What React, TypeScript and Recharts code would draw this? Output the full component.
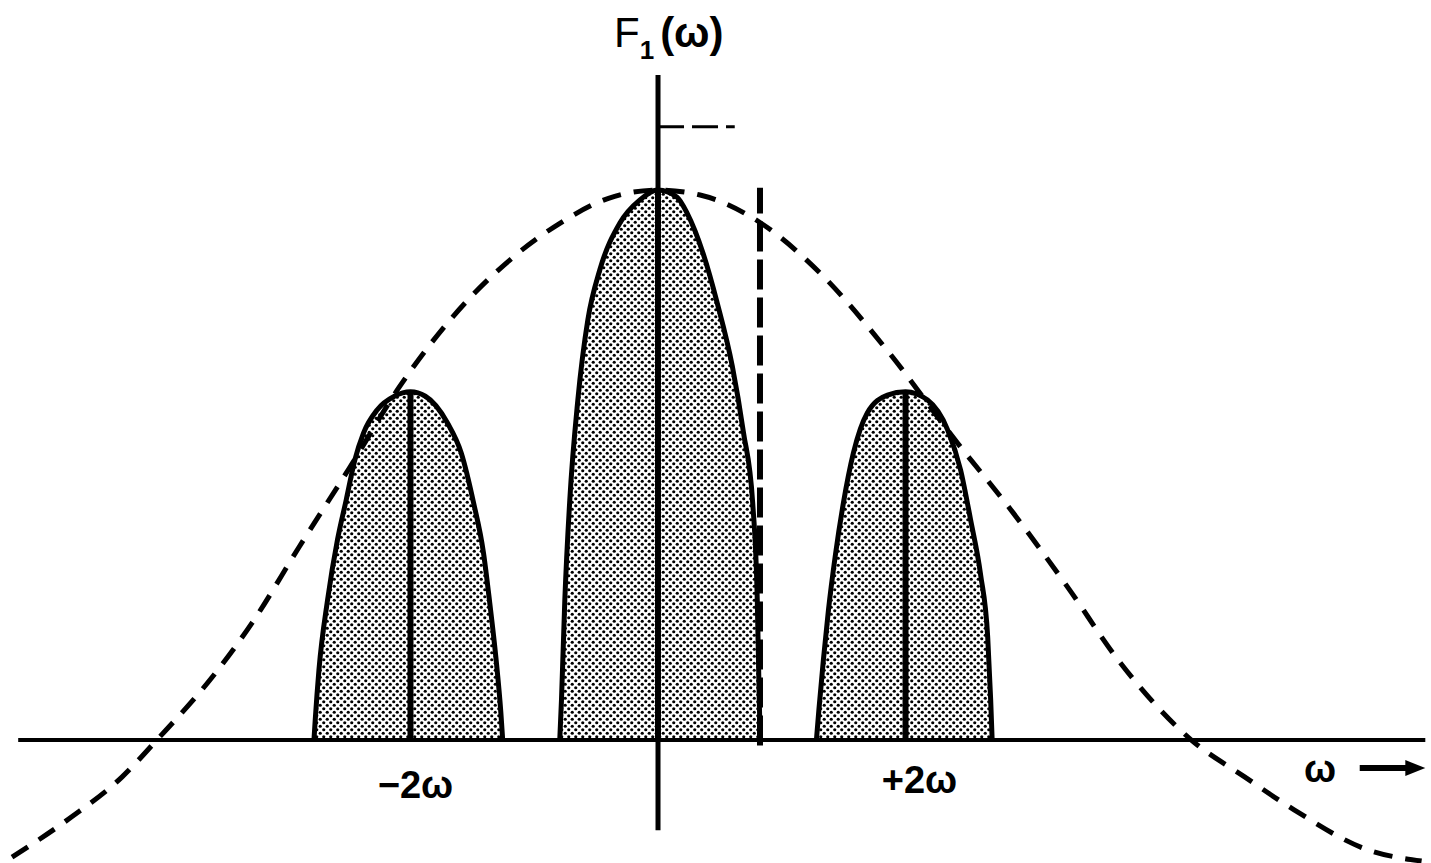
import React from "react";
import {
  ComposedChart,
  Area,
  Line,
  XAxis,
  YAxis,
  ReferenceLine,
  ReferenceDot,
} from "recharts";

// dashed envelope F1(w)
const envelope = [
  { x: -5.22, y: -0.213 },
  { x: -4.74, y: -0.14 },
  { x: -4.33, y: -0.067 },
  { x: -4.05, y: 0 },
  { x: -3.6, y: 0.115 },
  { x: -3.28, y: 0.213 },
  { x: -2.9, y: 0.351 },
  { x: -2.49, y: 0.496 },
  { x: -2.09, y: 0.642 },
  { x: -1.66, y: 0.769 },
  { x: -1.17, y: 0.878 },
  { x: -0.79, y: 0.94 },
  { x: -0.4, y: 0.985 },
  { x: 0, y: 1.0 },
  { x: 0.34, y: 0.991 },
  { x: 0.83, y: 0.94 },
  { x: 1.31, y: 0.849 },
  { x: 1.85, y: 0.709 },
  { x: 2.42, y: 0.54 },
  { x: 2.87, y: 0.413 },
  { x: 3.31, y: 0.278 },
  { x: 3.72, y: 0.145 },
  { x: 4.31, y: 0 },
  { x: 4.74, y: -0.067 },
  { x: 5.14, y: -0.127 },
  { x: 5.74, y: -0.2 },
  { x: 6.17, y: -0.22 },
];

// stippled side band at -2w
const leftLobe = [
  { x: -2.78, y: 0 },
  { x: -2.77, y: 0.036 },
  { x: -2.74, y: 0.127 },
  { x: -2.67, y: 0.255 },
  { x: -2.59, y: 0.364 },
  { x: -2.52, y: 0.436 },
  { x: -2.45, y: 0.509 },
  { x: -2.38, y: 0.558 },
  { x: -2.27, y: 0.6 },
  { x: -2.13, y: 0.625 },
  { x: -2.0, y: 0.633 },
  { x: -1.88, y: 0.625 },
  { x: -1.7, y: 0.576 },
  { x: -1.59, y: 0.522 },
  { x: -1.49, y: 0.431 },
  { x: -1.41, y: 0.34 },
  { x: -1.36, y: 0.25 },
  { x: -1.31, y: 0.15 },
  { x: -1.27, y: 0.05 },
  { x: -1.255, y: 0 },
];

// stippled centre band
const centerLobe = [
  { x: -0.794, y: 0 },
  { x: -0.78, y: 0.073 },
  { x: -0.753, y: 0.255 },
  { x: -0.713, y: 0.436 },
  { x: -0.648, y: 0.618 },
  { x: -0.567, y: 0.764 },
  { x: -0.47, y: 0.855 },
  { x: -0.308, y: 0.94 },
  { x: -0.146, y: 0.982 },
  { x: 0, y: 1.0 },
  { x: 0.154, y: 0.987 },
  { x: 0.235, y: 0.958 },
  { x: 0.364, y: 0.885 },
  { x: 0.478, y: 0.795 },
  { x: 0.6, y: 0.68 },
  { x: 0.69, y: 0.56 },
  { x: 0.765, y: 0.431 },
  { x: 0.802, y: 0.255 },
  { x: 0.818, y: 0.073 },
  { x: 0.826, y: 0 },
];

// stippled side band at +2w
const rightLobe = [
  { x: 1.28, y: 0 },
  { x: 1.3, y: 0.055 },
  { x: 1.336, y: 0.145 },
  { x: 1.377, y: 0.236 },
  { x: 1.433, y: 0.336 },
  { x: 1.498, y: 0.431 },
  { x: 1.579, y: 0.522 },
  { x: 1.692, y: 0.595 },
  { x: 1.854, y: 0.627 },
  { x: 2.0, y: 0.633 },
  { x: 2.178, y: 0.618 },
  { x: 2.34, y: 0.564 },
  { x: 2.445, y: 0.491 },
  { x: 2.526, y: 0.4 },
  { x: 2.607, y: 0.3 },
  { x: 2.664, y: 0.187 },
  { x: 2.688, y: 0.073 },
  { x: 2.7, y: 0 },
];

// spectral lines: position and height
const lineX = [-2, 0, 2];
const lineH = [0.633, 1.0, 0.633];

const cutoffX = 0.824;
const markerY = 1.115;

const X_DOMAIN: [number, number] = [-5.317, 6.246];
const Y_DOMAIN: [number, number] = [-0.2236, 1.3455];

const FONT = "'Liberation Sans', Arial, sans-serif";

function textLabel(text: string, dx: number) {
  return (props: any) => {
    const vb = props.viewBox || {};
    const cx = (vb.x ?? 0) + (vb.width ?? 0) / 2 + dx;
    const cy = (vb.y ?? 0) + (vb.height ?? 0) / 2;
    return (
      <text
        x={cx}
        y={cy}
        textAnchor="middle"
        fontFamily={FONT}
        fontWeight="bold"
        fontSize={38}
        fill="#000"
      >
        {text}
      </text>
    );
  };
}

function titleLabel(props: any) {
  const vb = props.viewBox || {};
  const cx = (vb.x ?? 0) + (vb.width ?? 0) / 2;
  const cy = (vb.y ?? 0) + (vb.height ?? 0) / 2;
  return (
    <text x={cx - 44} y={cy} fontFamily={FONT} fontSize={42} fill="#000">
      F
      <tspan fontSize={26} dy={12} fontWeight="bold">
        1
      </tspan>
      <tspan dy={-12} dx={6} fontWeight="bold">
        (ω)
      </tspan>
    </text>
  );
}

function arrowShape(props: any) {
  const { x1, y1, x2, y2 } = props;
  return (
    <g>
      <line x1={x1} y1={y1} x2={x2 - 14} y2={y2} stroke="#000" strokeWidth={6} />
      <polygon
        points={`${x2},${y2} ${x2 - 20},${y2 - 8} ${x2 - 20},${y2 + 8}`}
        fill="#000"
      />
    </g>
  );
}

export default function App() {
  return (
    <div style={{ width: 1431, height: 863, background: "#fff" }}>
      <style>{"body{margin:0;background:#fff}"}</style>
      <ComposedChart
        width={1431}
        height={863}
        margin={{ top: 0, right: 0, bottom: 0, left: 0 }}
      >
        <defs>
          <pattern
            id="stipple"
            width={7}
            height={7}
            patternUnits="userSpaceOnUse"
          >
            <rect width={7} height={7} fill="#fff" />
            <circle cx={1.75} cy={1.75} r={1.6} fill="#000" />
            <circle cx={5.25} cy={5.25} r={1.6} fill="#000" />
          </pattern>
        </defs>
        <XAxis
          type="number"
          dataKey="x"
          domain={X_DOMAIN}
          allowDataOverflow
          hide
        />
        <YAxis type="number" domain={Y_DOMAIN} allowDataOverflow hide />

        {[leftLobe, centerLobe, rightLobe].map((lobe, i) => (
          <Area
            key={i}
            data={lobe}
            dataKey="y"
            type="monotone"
            baseValue={0}
            fill="url(#stipple)"
            fillOpacity={1}
            stroke="#000"
            strokeWidth={5}
            isAnimationActive={false}
            activeDot={false}
          />
        ))}

        <Line
          data={envelope}
          dataKey="y"
          type="monotone"
          stroke="#000"
          strokeWidth={5}
          strokeDasharray="19 13"
          dot={false}
          activeDot={false}
          isAnimationActive={false}
        />

        {/* frequency axis */}
        <ReferenceLine
          segment={[
            { x: -5.17, y: 0 },
            { x: 6.2, y: 0 },
          ]}
          stroke="#000"
          strokeWidth={4}
        />
        {/* amplitude axis */}
        <ReferenceLine
          segment={[
            { x: 0, y: -0.164 },
            { x: 0, y: 1.209 },
          ]}
          stroke="#000"
          strokeWidth={5}
        />
        {lineX.map((x, i) => (
          <ReferenceLine
            key={`l${i}`}
            segment={[
              { x, y: 0 },
              { x, y: lineH[i] },
            ]}
            stroke="#000"
            strokeWidth={6}
          />
        ))}
        <ReferenceLine
          segment={[
            { x: cutoffX, y: -0.01 },
            { x: cutoffX, y: 1.004 },
          ]}
          stroke="#000"
          strokeWidth={6}
          strokeDasharray="30 8"
        />
        <ReferenceLine
          segment={[
            { x: 0, y: markerY },
            { x: 0.62, y: markerY },
          ]}
          stroke="#000"
          strokeWidth={3}
          strokeDasharray="26 8"
        />
        <ReferenceLine
          segment={[
            { x: 5.67, y: -0.051 },
            { x: 6.2, y: -0.051 },
          ]}
          shape={arrowShape}
        />

        <ReferenceDot
          x={0}
          y={1.26}
          r={1}
          fill="none"
          stroke="none"
          label={{ content: titleLabel }}
        />
        <ReferenceDot
          x={-2}
          y={-0.105}
          r={1}
          fill="none"
          stroke="none"
          label={{ content: textLabel("−2ω", 5) }}
        />
        <ReferenceDot
          x={2}
          y={-0.096}
          r={1}
          fill="none"
          stroke="none"
          label={{ content: textLabel("+2ω", 14) }}
        />
        <ReferenceDot
          x={5.35}
          y={-0.076}
          r={1}
          fill="none"
          stroke="none"
          label={{ content: textLabel("ω", 0) }}
        />
      </ComposedChart>
    </div>
  );
}
